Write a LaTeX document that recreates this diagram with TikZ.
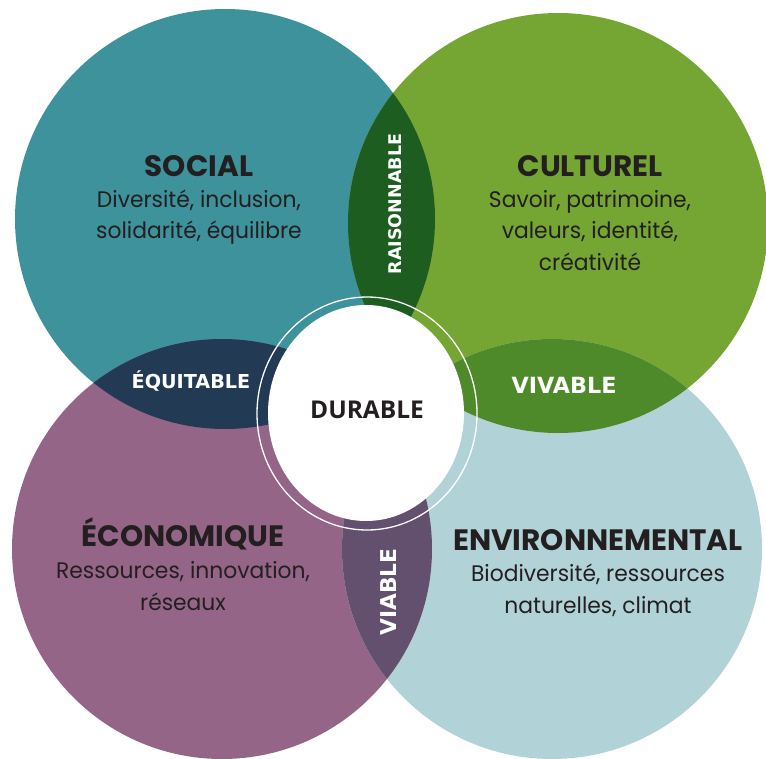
\documentclass[tikz,border=0pt]{standalone}
\usepackage{fontspec}
\newfontfamily\titlefont{Poppins}
\newfontfamily\bodyfont[FakeStretch=0.97]{Poppins}
\newfontfamily\lensfont{DejaVu Sans}
\newfontfamily\durfont{Open Sans}
\definecolor{socialc}{HTML}{3D929B}
\definecolor{cultc}{HTML}{75A533}
\definecolor{ecoc}{HTML}{956588}
\definecolor{envc}{HTML}{B1D3D8}
\definecolor{raisc}{HTML}{1D5E20}
\definecolor{equc}{HTML}{233A54}
\definecolor{vivc}{HTML}{4F8A2A}
\definecolor{viac}{HTML}{63506F}
\definecolor{ink}{HTML}{231F20}
\begin{document}
\begin{tikzpicture}[x=1pt,y=-1pt,
  title/.style={font=\titlefont\bfseries\fontsize{29.5}{31}\selectfont, text=ink, anchor=base, inner sep=0pt},
  body/.style={font=\bodyfont\fontsize{22.5}{31}\selectfont, text=ink, anchor=base, inner sep=0pt},
  lens/.style={font=\lensfont\bfseries\fontsize{20}{22}\selectfont, text=white, inner sep=0pt},
  dur/.style={font=\durfont\bfseries\fontsize{24.5}{26}\selectfont, text=ink, anchor=base, inner sep=0pt}]
\useasboundingbox (0,0) rectangle (766,758);
% main circles
\fill[socialc] (225,219) circle (210pt);
\fill[cultc] (558,223) circle (210pt);
\fill[ecoc] (222,549) circle (210pt);
\fill[envc] (552,549) circle (210pt);
% lenses
\begin{scope}\clip (225,219) circle (210pt); \fill[raisc] (558,223) circle (210pt);\end{scope}
\begin{scope}\clip (225,219) circle (210pt); \fill[equc] (222,549) circle (210pt);\end{scope}
\begin{scope}\clip (558,223) circle (210pt); \fill[vivc] (552,549) circle (210pt);\end{scope}
\begin{scope}\clip (222,549) circle (210pt); \fill[viac] (552,549) circle (210pt);\end{scope}
% centre
\fill[white] (366,413) ellipse [x radius=98pt, y radius=108pt];
\draw[white, line width=1.3pt] (367,413.5) ellipse [x radius=110pt, y radius=116.5pt];
% texts
\node[title] (soc) at (199,176) {SOCIAL};
\node[body] (soc1) at (199,207) {Diversité, inclusion,};
\node[body] (soc2) at (199,238) {solidarité, équilibre};
\node[title] (cul) at (590,176) {CULTUREL};
\node[body] (cul1) at (590,207) {Savoir, patrimoine,};
\node[body] (cul2) at (590,238) {valeurs, identité,};
\node[body] (cul3) at (590,270) {créativité};
\node[title] (eco) at (183,546) {ÉCONOMIQUE};
\node[body] (eco1) at (183,578) {Ressources, innovation,};
\node[body] (eco2) at (183,610) {réseaux};
\node[title] (env) at (598,550) {ENVIRONNEMENTAL};
\node[body] (env1) at (598,581) {Biodiversité, ressources};
\node[body] (env2) at (598,613) {naturelles, climat};
\node[lens, rotate=90, font=\lensfont\bfseries\fontsize{17.5}{20}\selectfont] (rai) at (395.5,204) {RAISONNABLE};
\node[lens, anchor=base, font=\lensfont\bfseries\fontsize{19.2}{21}\selectfont] (equ) at (191,388) {ÉQUITABLE};
\node[lens, anchor=base, font=\lensfont\bfseries\fontsize{22.3}{24}\selectfont] (viv) at (564,393) {VIVABLE};
\node[lens, rotate=90, font=\lensfont\bfseries\fontsize{21.8}{24}\selectfont] (via) at (389,592) {VIABLE};
\node[dur] (dura) at (367,418) {DURABLE};
\end{tikzpicture}
\end{document}
